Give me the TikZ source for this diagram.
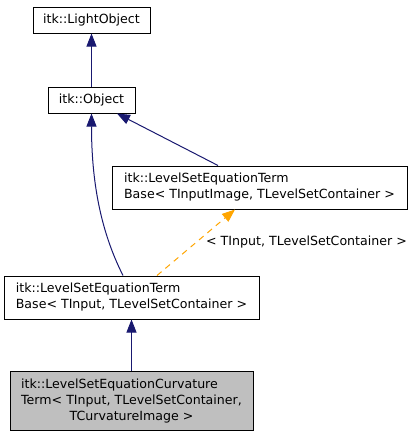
\documentclass[tikz,border=0pt]{standalone}
\usepackage{fontspec}
\setmainfont{DejaVu Sans}
\usetikzlibrary{arrows.meta}
\definecolor{edgeblue}{RGB}{25,25,112}
\definecolor{tmplorange}{RGB}{255,165,0}
\definecolor{boxgray}{RGB}{191,191,191}
\tikzset{
    classbox/.style={draw=black, line width=1pt, fill=white, inner sep=0pt,
        font=\fontsize{12.6}{16}\selectfont, align=left},
    inherit/.style={draw=edgeblue, line width=1pt, -{Triangle[length=13pt,width=10pt]}},
    tmpl/.style={draw=tmplorange, line width=1pt, dash pattern=on 6pt off 5pt,
        -{Triangle[length=13pt,width=10pt]}}
}
\begin{document}
\begin{tikzpicture}[x=1pt, y=-1pt]
    \useasboundingbox (0,0) rectangle (413,437);
    \node[classbox, minimum width=117pt, minimum height=26pt] (light) at (91.5,20) {itk::LightObject};
    \node[classbox, minimum width=87pt, minimum height=26pt] (object) at (91.5,100) {itk::Object};
    \node[classbox, minimum width=295pt, minimum height=43pt] (termimg) at (259.5,187.5)
        {itk::LevelSetEquationTerm\\Base< TInputImage, TLevelSetContainer >};
    \node[classbox, minimum width=255pt, minimum height=43pt] (term) at (131.5,297.5)
        {itk::LevelSetEquationTerm\\Base< TInput, TLevelSetContainer >};
    \node[classbox, fill=boxgray, minimum width=243pt, minimum height=59pt] (curv) at (131.5,401)
        {\begin{tabular}{@{}l@{}}itk::LevelSetEquationCurvature\\
        Term< TInput, TLevelSetContainer,\\
        \multicolumn{1}{@{}c@{}}{TCurvatureImage >}\end{tabular}};
    \node[font=\fontsize{12.6}{16}\selectfont, inner sep=0pt] (tmpllabel) at (306.5,242)
        {< TInput, TLevelSetContainer >};

    \draw[inherit] (object.north) -- (light.south);
    \draw[inherit] ([xshift=-41.5pt]termimg.north) -- ([xshift=25.5pt]object.south);
    \draw[inherit] ([xshift=-8.5pt]term.north) .. controls (100,230) and (91.5,180) .. (object.south);
    \draw[tmpl] ([xshift=25.5pt]term.north) -- ([xshift=-24.5pt]termimg.south);
    \draw[inherit] (curv.north) -- (term.south);
\end{tikzpicture}
\end{document}
